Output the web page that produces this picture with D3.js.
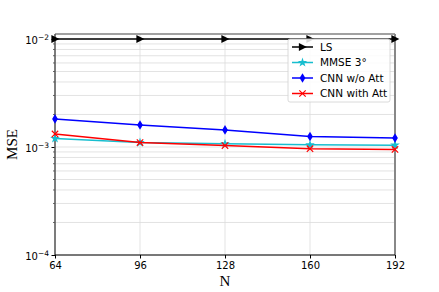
<!DOCTYPE html>
<meta charset="utf-8">
<style>
  body { margin: 0; background: #fff; }
  svg text { font-family: "DejaVu Sans", sans-serif; }
</style>
<script src="https://d3js.org/d3.v7.min.js"></script>
<div id="graph"></div>
<script>
// data
var N = [64, 96, 128, 160, 192];
var lsMse = [0.01, 0.01, 0.01, 0.01, 0.01];
var mmseMse = [0.00120, 0.00110, 0.00107, 0.00105, 0.00104];
var cnnNoAtt = [0.00182, 0.00160, 0.00144, 0.00125, 0.00121];
var cnnAtt = [0.00132, 0.00110, 0.00103, 0.000965, 0.00095];
var yTicks = [1e-4, 1e-3, 1e-2];
var yTickExp = ["\u22124", "\u22123", "\u22122"];

var series = [
  { name: "LS", values: lsMse, color: "black", marker: "tri" },
  { name: "MMSE 3\u00b0", values: mmseMse, color: "#17becf", marker: "star" },
  { name: "CNN w/o Att", values: cnnNoAtt, color: "blue", marker: "diamond" },
  { name: "CNN with Att", values: cnnAtt, color: "red", marker: "x" }
];

var W = 439, H = 292;
var margin = { top: 34, right: 44, bottom: 37, left: 55 };
var width = W - margin.left - margin.right,
    height = H - margin.top - margin.bottom;

var svg = d3.select("#graph").append("svg")
  .attr("width", W).attr("height", H);
var g = svg.append("g")
  .attr("transform", "translate(" + margin.left + "," + margin.top + ")");

var x = d3.scaleLinear().domain([64, 192]).range([0, width]);
// top edge sits a bit above 10^-2
var y = d3.scaleLog().domain([1e-4, Math.pow(10, -2 + 5 / 108)]).range([height, 0]);

// minor values for grid and ticks
var minor = [];
[1e-4, 1e-3, 1e-2].forEach(function (b) {
  for (var k = 2; k <= 9; k++) {
    var v = b * k;
    if (v <= y.domain()[1]) minor.push(v);
  }
});

// grid
g.selectAll(".hgrid").data(minor.concat(yTicks)).enter().append("line")
  .attr("x1", 0).attr("x2", width)
  .attr("y1", function (d) { return y(d); }).attr("y2", function (d) { return y(d); })
  .attr("stroke", "#dcdcdc").attr("stroke-width", 0.8);
g.selectAll(".vgrid").data(N).enter().append("line")
  .attr("x1", function (d) { return x(d); }).attr("x2", function (d) { return x(d); })
  .attr("y1", 0).attr("y2", height)
  .attr("stroke", "#dcdcdc").attr("stroke-width", 0.8);

// x axis
var xAxis = g.append("g").attr("transform", "translate(0," + height + ")")
  .call(d3.axisBottom(x).tickValues(N).tickSize(3.5).tickPadding(3));
xAxis.select(".domain").remove();
xAxis.selectAll("text").attr("font-size", "10px").attr("fill", "#000")
  .style("font-family", "DejaVu Sans, sans-serif");

// y axis major
var yAxis = g.append("g")
  .call(d3.axisLeft(y).tickValues(yTicks).tickSize(3.5).tickPadding(3).tickFormat(""));
yAxis.select(".domain").remove();
yAxis.selectAll(".tick").each(function (d, i) {
  var t = d3.select(this).append("text")
    .attr("x", -6).attr("dy", "0.4em").attr("text-anchor", "end")
    .attr("fill", "#000").attr("font-size", "10px");
  t.append("tspan").text("10");
  t.append("tspan").attr("dy", "-0.5em").attr("font-size", "7.5px").text(yTickExp[i]);
});
// y minor ticks
g.selectAll(".ymin").data(minor).enter().append("line")
  .attr("x1", -2).attr("x2", 0)
  .attr("y1", function (d) { return y(d); }).attr("y2", function (d) { return y(d); })
  .attr("stroke", "#000").attr("stroke-width", 0.6);

// spines
g.append("line").attr("x1", 0).attr("x2", width).attr("y1", 0).attr("y2", 0)
  .attr("stroke", "#444").attr("stroke-width", 1.2);
g.append("line").attr("x1", width).attr("x2", width).attr("y1", 0).attr("y2", height)
  .attr("stroke", "#888").attr("stroke-width", 2);
g.append("line").attr("x1", 0).attr("x2", 0).attr("y1", 0).attr("y2", height)
  .attr("stroke", "#555").attr("stroke-width", 1.5);
g.append("line").attr("x1", 0).attr("x2", width).attr("y1", height).attr("y2", height)
  .attr("stroke", "#000").attr("stroke-width", 1);

// markers
function drawMarker(sel, type, color, s) {
  if (type === "tri") {
    sel.append("path").attr("d", "M" + (-s * 0.45) + "," + (-s * 0.5) + "L" + (s * 0.55) + ",0L" + (-s * 0.45) + "," + (s * 0.5) + "Z")
      .attr("fill", color);
  } else if (type === "star") {
    sel.append("path").attr("d", d3.symbol().type(d3.symbolStar).size(s * s * 0.45)())
      .attr("fill", color);
  } else if (type === "diamond") {
    sel.append("path").attr("d", "M0," + (-s * 0.6) + "L" + (s * 0.36) + ",0L0," + (s * 0.6) + "L" + (-s * 0.36) + ",0Z")
      .attr("fill", color);
  } else if (type === "x") {
    var h = s * 0.4;
    sel.append("path").attr("d", "M" + (-h) + "," + (-h) + "L" + h + "," + h + "M" + (-h) + "," + h + "L" + h + "," + (-h))
      .attr("stroke", color).attr("stroke-width", 1.2).attr("fill", "none");
  }
}

var line = d3.line()
  .x(function (d, i) { return x(N[i]); })
  .y(function (d) { return y(d); });

series.forEach(function (s) {
  g.append("path").datum(s.values)
    .attr("d", line).attr("fill", "none")
    .attr("stroke", s.color).attr("stroke-width", 1.5);
  s.values.forEach(function (v, i) {
    var m = g.append("g").attr("transform", "translate(" + x(N[i]) + "," + y(v) + ")");
    drawMarker(m, s.marker, s.color, 8);
  });
});

// legend
var leg = svg.append("g").attr("transform", "translate(288,39)");
leg.append("rect").attr("width", 102).attr("height", 63).attr("rx", 2)
  .attr("fill", "white").attr("fill-opacity", 0.85)
  .attr("stroke", "#d0d0d0").attr("stroke-width", 0.8);
series.forEach(function (s, i) {
  var yy = 8 + i * 15.5;
  var row = leg.append("g").attr("transform", "translate(0," + yy + ")");
  row.append("line").attr("x1", 4).attr("x2", 25).attr("y1", 0).attr("y2", 0)
    .attr("stroke", s.color).attr("stroke-width", 1.5);
  var m = row.append("g").attr("transform", "translate(14.5,0)");
  drawMarker(m, s.marker, s.color, 8);
  row.append("text").attr("x", 32).attr("y", 0).attr("dy", "0.35em")
    .attr("font-size", "10.5px").attr("fill", "#000").text(s.name);
});

// axis titles
svg.append("text").attr("x", margin.left + width / 2).attr("y", 286)
  .attr("text-anchor", "middle").attr("font-size", "15px")
  .style("font-family", "Liberation Serif, serif").text("N");
svg.append("text")
  .attr("transform", "translate(17," + (margin.top + height / 2) + ") rotate(-90)")
  .attr("text-anchor", "middle").attr("font-size", "15px")
  .style("font-family", "Liberation Serif, serif").text("MSE");
</script>
